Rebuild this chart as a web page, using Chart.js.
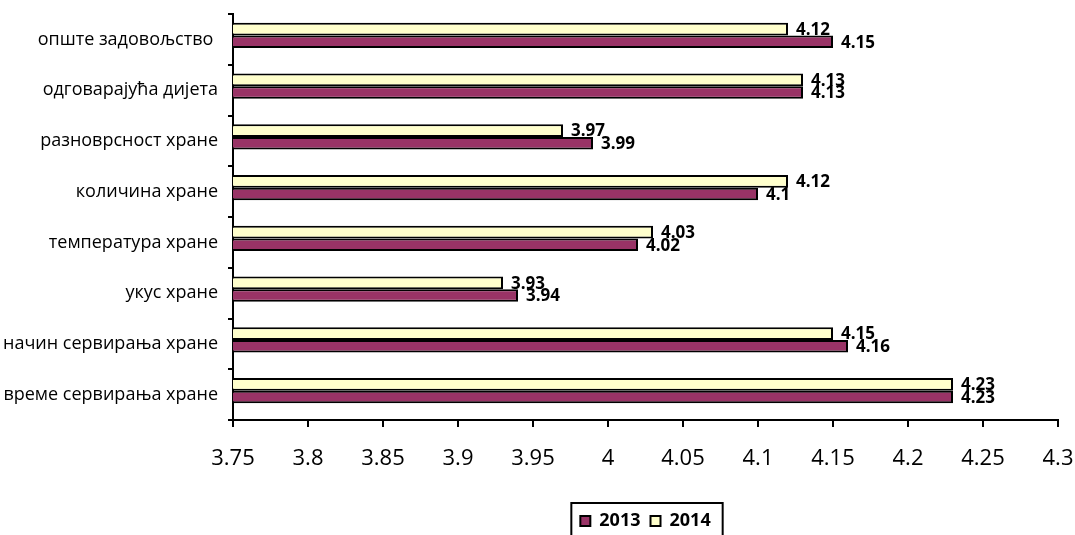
<!DOCTYPE html>
<html>
<head>
<meta charset="utf-8">
<script src="https://cdn.jsdelivr.net/npm/chart.js@4/dist/chart.umd.min.js"></script>
<style>
  html, body { margin: 0; padding: 0; background: #fff; }
  #wrap { width: 1075px; height: 535px; }
</style>
</head>
<body>
<div id="wrap"><canvas id="chart"></canvas></div>
<script>
const categories = [
	"опште задовољство ",
	"одговарајућа дијета",
	"разноврсност хране",
	"количина хране",
	"температура хране",
	"укус хране",
	"начин сервирања хране",
	"време сервирања хране",
];
const seriesNames = ["2013", "2014"];
const values2013 = [4.15, 4.13, 3.99, 4.1, 4.02, 3.94, 4.16, 4.23];
const values2014 = [4.12, 4.13, 3.97, 4.12, 4.03, 3.93, 4.15, 4.23];
const axisMin = 3.75;
const axisMax = 4.3;
const axisStep = 0.05;

const FONT = "'Open Sans', 'DejaVu Sans', sans-serif";
Chart.defaults.font.family = FONT;
Chart.defaults.color = "#000";

// bars sit a little above the middle of their category, as in the original;
// value labels go to the right of each bar end
const barLabels = {
	id: "barLabels",
	beforeDatasetsDraw(chart) {
		chart.ctx.save();
		chart.ctx.translate(0, -4);
	},
	afterDatasetsDraw(chart) {
		const { ctx } = chart;
		ctx.font = `bold 17px ${FONT}`;
		ctx.fillStyle = "#000";
		ctx.textAlign = "left";
		ctx.textBaseline = "middle";
		chart.data.datasets.forEach((ds, i) => {
			chart.getDatasetMeta(i).data.forEach((bar, j) => {
				ctx.fillText(String(ds.data[j]), bar.x + 8, bar.y + 1);
			});
		});
		ctx.restore();
	},
};

// frame around the legend, cut by the bottom edge like the original
const legendFrame = {
	id: "legendFrame",
	afterDraw(chart) {
		const boxes = chart.legend && chart.legend.legendHitBoxes;
		if (!boxes || !boxes.length) return;
		const first = boxes[0];
		const last = boxes[boxes.length - 1];
		const { ctx } = chart;
		ctx.save();
		ctx.strokeStyle = "#000";
		ctx.lineWidth = 2;
		const left = first.left - 9;
		const top = first.top - 9;
		const right = last.left + last.width + 12;
		ctx.strokeRect(left, top, right - left, chart.height + 10 - top);
		ctx.restore();
	},
};

new Chart(document.getElementById("chart"), {
	type: "bar",
	data: {
		labels: categories,
		datasets: [
			{
				label: seriesNames[1],
				data: values2014,
				backgroundColor: "#FFFFCC",
				borderColor: "#000",
				borderWidth: 2,
				borderSkipped: "start",
			},
			{
				label: seriesNames[0],
				data: values2013,
				backgroundColor: "#993366",
				borderColor: "#000",
				borderWidth: 2,
				borderSkipped: "start",
			},
		],
	},
	options: {
		indexAxis: "y",
		responsive: true,
		maintainAspectRatio: false,
		animation: false,
		barPercentage: 1,
		categoryPercentage: 0.5,
		layout: { padding: { top: 14, right: 0, left: 0, bottom: -5 } },
		scales: {
			x: {
				min: axisMin,
				max: axisMax,
				afterFit(scale) {
					scale.height = 82;
					scale.paddingRight = 17;
				},
				grid: { drawOnChartArea: false, drawTicks: true, tickLength: 7, color: "#000", lineWidth: 2 },
				border: { color: "#000", width: 2 },
				ticks: {
					stepSize: axisStep,
					padding: 19,
					font: { size: 22 },
					color: "#000",
					maxRotation: 0,
					autoSkip: false,
					callback: (v) => String(Number(Number(v).toFixed(2))),
				},
			},
			y: {
				afterFit(scale) {
					scale.width = 233;
					scale.paddingTop = 0;
					scale.paddingBottom = 0;
				},
				grid: { offset: true, drawOnChartArea: false, drawTicks: true, tickLength: 5, color: "#000", lineWidth: 2 },
				border: { color: "#000", width: 2 },
				ticks: { padding: 10, font: { size: 18 }, color: "#000", autoSkip: false },
			},
		},
		plugins: {
			tooltip: { enabled: false },
			legend: {
				position: "bottom",
				fullSize: false,
				reverse: true,
				labels: {
					boxWidth: 10,
					boxHeight: 10,
					padding: 10,
					color: "#000",
					font: { size: 18, weight: "bold" },
				},
			},
		},
	},
	plugins: [barLabels, legendFrame],
});
</script>
</body>
</html>
